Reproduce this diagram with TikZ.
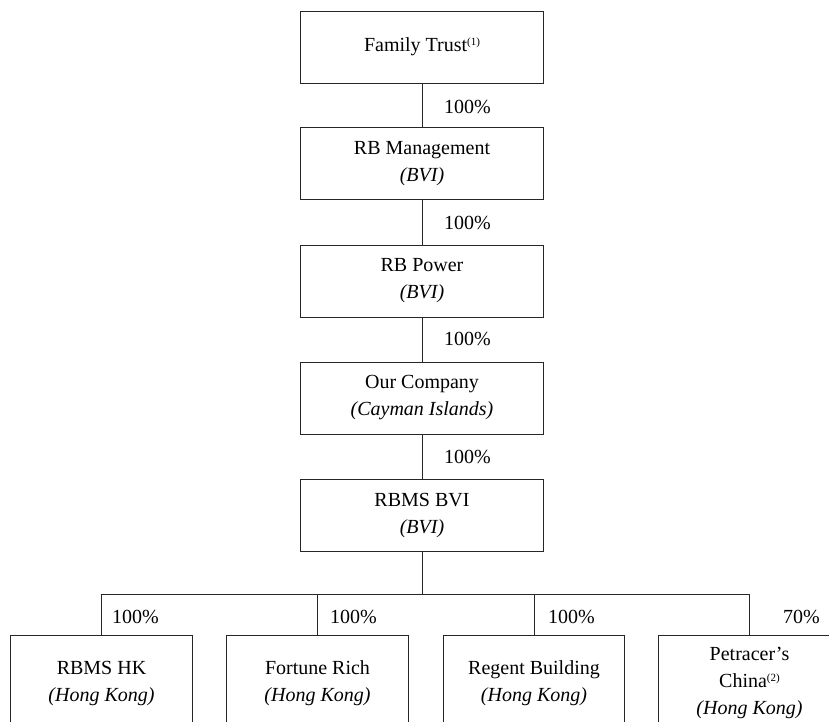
\documentclass[tikz,border=0pt]{standalone}
\usepackage{fontspec}
\setmainfont{Liberation Serif}
\newcommand{\fnref}[1]{\raisebox{6pt}{\fontsize{11}{11}\selectfont(#1)}}
\begin{document}
\begin{tikzpicture}[x=1pt,y=-1pt,
  ln/.style={line width=1pt, draw=black!85},
  txt/.style={align=center, inner sep=0pt, font=\fontsize{20}{27}\selectfont},
  topbox/.style={txt, ln, draw, minimum width=243pt, minimum height=72pt},
  botbox/.style={txt, minimum width=181pt, minimum height=94pt},
  pct/.style={inner sep=0pt, font=\fontsize{20}{24}\selectfont, anchor=base west}]
\useasboundingbox (0,0) rectangle (829,721);
\clip (0,0) rectangle (829,721);
% column
\node[topbox] (ft)  at (422,47)    {Family Trust\fnref{1}};
\node[topbox] (rbm) at (422,163.5) {RB Management\\\textit{(BVI)}};
\node[topbox] (rbp) at (422,281)   {RB Power\\\textit{(BVI)}};
\node[topbox] (oc)  at (422,398)   {Our Company\\\textit{(Cayman Islands)}};
\node[topbox] (bvi) at (422,515.5) {RBMS BVI\\\textit{(BVI)}};
\draw[ln] (ft) -- (rbm);
\draw[ln] (rbm) -- (rbp);
\draw[ln] (rbp) -- (oc);
\draw[ln] (oc) -- (bvi);
\node[pct] (p1) at (444,113) {100\%};
\node[pct] (p2) at (444,229) {100\%};
\node[pct] (p3) at (444,345) {100\%};
\node[pct] (p4) at (444,463) {100\%};
% bottom row
\node[botbox] (b1) at (101.5,683) {RBMS HK\\\textit{(Hong Kong)}};
\node[botbox] (b2) at (317.5,683) {Fortune Rich\\\textit{(Hong Kong)}};
\node[botbox] (b3) at (534,683)   {Regent Building\\\textit{(Hong Kong)}};
\node[botbox] (b4) at (749.5,683) {Petracer’s\\China\fnref{2}\\\textit{(Hong Kong)}};
\foreach \b in {b1,b2,b3,b4}{
  \draw[ln] (\b.south west) -- (\b.north west) -- (\b.north east) -- (\b.south east);
}
\coordinate (bar) at (422,594);
\draw[ln] (bvi.south) -- (bar);
\draw[ln] (b1.north) -- (b1.north |- bar) -| (b4.north);
\draw[ln] (b2.north) -- (b2.north |- bar);
\draw[ln] (b3.north) -- (b3.north |- bar);
\node[pct] (q1) at (112,623) {100\%};
\node[pct] (q2) at (330,623) {100\%};
\node[pct] (q3) at (548,623) {100\%};
\node[pct] (q4) at (783,623) {70\%};
\end{tikzpicture}
\end{document}
